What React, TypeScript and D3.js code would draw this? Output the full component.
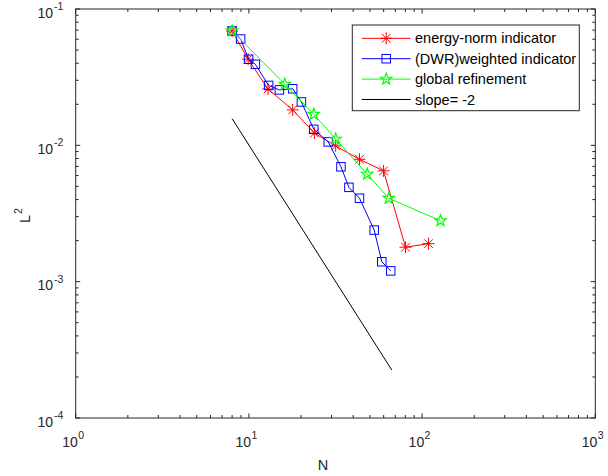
import React from 'react';
import * as d3 from 'd3';

const energyN = [8, 9.9, 12.9, 17.9, 23.9, 31.7, 43.5, 59.9, 80.2, 108.9];
const energyL2 = [0.069, 0.0428, 0.0259, 0.0182, 0.0123, 0.0099, 0.0079, 0.0065, 0.00179, 0.0019];
const dwrN = [8, 8.96, 9.96, 10.9, 13.0, 15.0, 17.9, 20.1, 23.7, 28.7, 34.0, 37.8, 43.5, 52.9, 58.5, 65.9];
const dwrL2 = [0.069, 0.0602, 0.0428, 0.0393, 0.0275, 0.0255, 0.026, 0.0208, 0.0131, 0.0106, 0.00696, 0.00492, 0.00409, 0.00239, 0.0014, 0.0012];
const globalN = [8, 16.1, 23.7, 31.7, 48.2, 64.2, 127.7];
const globalL2 = [0.069, 0.0281, 0.0169, 0.0111, 0.00615, 0.00409, 0.0028];
const slopeN = [8, 66.8];
const slopeL2 = [0.0157, 0.000225];

const xExponents = [0, 1, 2, 3];
const yExponents = [-1, -2, -3, -4];
const legendLabels = ['energy-norm indicator', '(DWR)weighted indicator', 'global refinement', 'slope= -2'];

const W = 608, H = 476;
const L = 75.7, R = 595.3, T = 9, B = 418;
const AX = '#262626';
const FONT = '"Liberation Sans", Arial, sans-serif';

const x = d3.scaleLog().domain([1, 1000]).range([L, R]);
const y = d3.scaleLog().domain([1e-4, 1e-1]).range([B, T]);

type Kind = 'asterisk' | 'square' | 'star' | 'none';

function Marker({ cx, cy, kind, color }: { cx: number; cy: number; kind: Kind; color: string }) {
  if (kind === 'asterisk') {
    const r = 6, d = r * 0.72;
    return (
      <g stroke={color} strokeWidth={1}>
        <line x1={cx - r} y1={cy} x2={cx + r} y2={cy} />
        <line x1={cx} y1={cy - r} x2={cx} y2={cy + r} />
        <line x1={cx - d} y1={cy - d} x2={cx + d} y2={cy + d} />
        <line x1={cx - d} y1={cy + d} x2={cx + d} y2={cy - d} />
      </g>
    );
  }
  if (kind === 'square') {
    const s = 8.5;
    return <rect x={cx - s / 2} y={cy - s / 2} width={s} height={s} fill="none" stroke={color} strokeWidth={1} />;
  }
  if (kind === 'star') {
    const ro = 6, ri = ro * 0.4;
    const pts: string[] = [];
    for (let i = 0; i < 10; i++) {
      const a = -Math.PI / 2 + (i * Math.PI) / 5;
      const r = i % 2 === 0 ? ro : ri;
      pts.push(`${cx + r * Math.cos(a)},${cy + r * Math.sin(a)}`);
    }
    return <polygon points={pts.join(' ')} fill="none" stroke={color} strokeWidth={1.2} />;
  }
  return null;
}

const series = [
  { n: energyN, v: energyL2, color: '#ff0000', kind: 'asterisk' as Kind },
  { n: dwrN, v: dwrL2, color: '#0000ff', kind: 'square' as Kind },
  { n: globalN, v: globalL2, color: '#00ff00', kind: 'star' as Kind },
  { n: slopeN, v: slopeL2, color: '#000000', kind: 'none' as Kind },
];

export default function App() {
  const line = d3.line<[number, number]>().x(d => x(d[0])).y(d => y(d[1]));

  const xMinor: number[] = [];
  for (let e = 0; e < 3; e++) for (let k = 2; k <= 9; k++) xMinor.push(k * Math.pow(10, e));
  const yMinor: number[] = [];
  for (let e = -4; e < -1; e++) for (let k = 2; k <= 9; k++) yMinor.push(k * Math.pow(10, e));
  const tl = 4.5, tm = 3;

  return (
    <svg width={W} height={H} style={{ position: 'absolute', left: 0, top: 0, background: '#fff' }} fontFamily={FONT}>
      <rect x={0} y={0} width={W} height={H} fill="#fff" />
      {series.map((s, i) => (
        <g key={i}>
          <path d={line(s.n.map((n, j) => [n, s.v[j]] as [number, number])) || ''} fill="none" stroke={s.color} strokeWidth={1} />
          {s.n.map((n, j) => (
            <Marker key={j} cx={x(n)} cy={y(s.v[j])} kind={s.kind} color={s.color} />
          ))}
        </g>
      ))}
      <rect x={L} y={T} width={R - L} height={B - T} fill="none" stroke={AX} strokeWidth={1} />
      <g stroke={AX} strokeWidth={1}>
        {xExponents.map(e => {
          const px = x(Math.pow(10, e));
          return (
            <g key={'xm' + e}>
              <line x1={px} y1={B} x2={px} y2={B - tl} />
              <line x1={px} y1={T} x2={px} y2={T + tl} />
            </g>
          );
        })}
        {xMinor.map(v => (
          <g key={'xn' + v}>
            <line x1={x(v)} y1={B} x2={x(v)} y2={B - tm} />
            <line x1={x(v)} y1={T} x2={x(v)} y2={T + tm} />
          </g>
        ))}
        {yExponents.map(e => {
          const py = y(Math.pow(10, e));
          return (
            <g key={'ym' + e}>
              <line x1={L} y1={py} x2={L + tl} y2={py} />
              <line x1={R} y1={py} x2={R - tl} y2={py} />
            </g>
          );
        })}
        {yMinor.map(v => (
          <g key={'yn' + v}>
            <line x1={L} y1={y(v)} x2={L + tm} y2={y(v)} />
            <line x1={R} y1={y(v)} x2={R - tm} y2={y(v)} />
          </g>
        ))}
      </g>
      {xExponents.map(e => {
        const px = x(Math.pow(10, e));
        return (
          <g key={'xl' + e} fill={AX}>
            <text x={px - 13.5} y={447} fontSize={14}>10</text>
            <text x={px + 2.5} y={439} fontSize={10.5}>{String(e)}</text>
          </g>
        );
      })}
      {yExponents.map(e => {
        const py = y(Math.pow(10, e));
        return (
          <g key={'yl' + e} fill={AX}>
            <text x={53} y={py + 8.5} fontSize={14} textAnchor="end">10</text>
            <text x={54} y={py + 1} fontSize={10.5}>{String(e)}</text>
          </g>
        );
      })}
      <text x={323} y={470} fontSize={14.5} textAnchor="middle" fill={AX}>N</text>
      <g transform="translate(30,219) rotate(-90)" fill={AX}>
        <text x={0} y={0} fontSize={14.5} textAnchor="middle">L</text>
        <text x={5} y={-8.5} fontSize={10.5}>2</text>
      </g>
      <rect x={352.3} y={25} width={227} height={85.7} fill="#fff" stroke={AX} strokeWidth={1} />
      {series.map((s, i) => {
        const ly = 38.3 + i * 20.4;
        return (
          <g key={'lg' + i}>
            <line x1={361.7} y1={ly} x2={410.7} y2={ly} stroke={s.color} strokeWidth={1} />
            <Marker cx={386.2} cy={ly} kind={s.kind} color={s.color} />
            <text x={415} y={ly + 5} fontSize={14.5} fill="#000">{legendLabels[i]}</text>
          </g>
        );
      })}
    </svg>
  );
}
